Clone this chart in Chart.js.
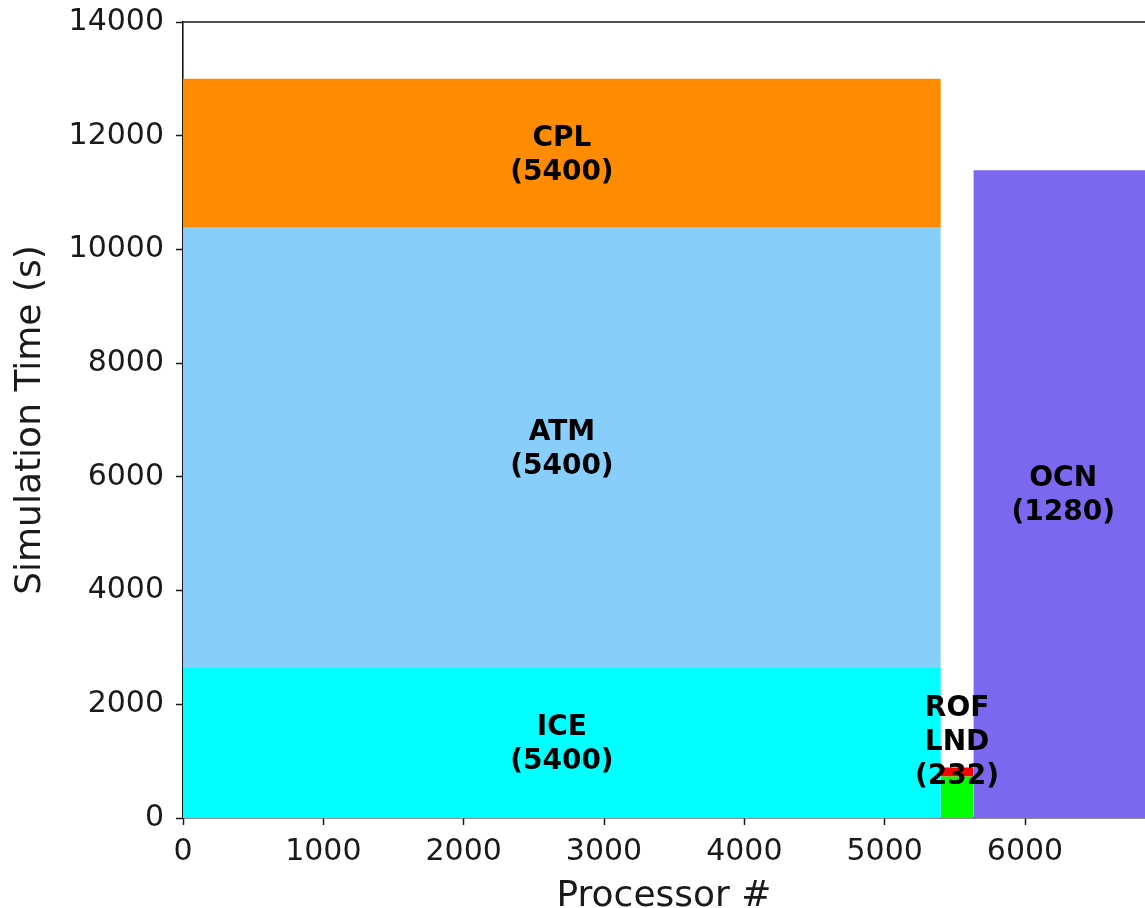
<!DOCTYPE html>
<html>
<head>
<meta charset="utf-8">
<script src="https://cdn.jsdelivr.net/npm/chart.js@4/dist/chart.umd.min.js"></script>
<style>
  html, body { margin: 0; padding: 0; background: #ffffff; overflow: hidden; }
  canvas { display: block; }
</style>
</head>
<body>
<canvas id="layout" width="1145" height="908"></canvas>
<script>
// Component layout: processor range (start, count) and time span per component
const components = ['ICE', 'ATM', 'CPL', 'LND', 'ROF', 'OCN'];
const procStart  = [0, 0, 0, 5400, 5400, 5632];
const procCount  = [5400, 5400, 5400, 232, 232, 1280];
const timeStart  = [0, 2636, 10380, 0, 730, 0];
const timeEnd    = [2636, 10380, 13000, 730, 890, 11394];
const colors     = ['#00FFFF', '#87CEFA', '#FF8C00', '#00FF00', '#FF0000', '#7B68EE'];

// Block annotations (LND and ROF share one label stacked above them)
const labelLines = [
  ['ICE', '(5400)'],
  ['ATM', '(5400)'],
  ['CPL', '(5400)'],
  ['ROF', 'LND', '(232)'],
  [],
  ['OCN', '(1280)']
];
const labelTime = [1318, 6508, 11690, 1358, null, 5697];

const xTicks = [0, 1000, 2000, 3000, 4000, 5000, 6000];
const yTicks = [0, 2000, 4000, 6000, 8000, 10000, 12000, 14000];
const xMax = 6855;
const yMax = 14000;

const INK = '#1a1a1a';
const FONT = "'DejaVu Sans', sans-serif";

const datasets = components.map((name, i) => ({
  label: name,
  data: [
    { x: procStart[i], y: timeEnd[i] },
    { x: procStart[i] + procCount[i], y: timeEnd[i] }
  ],
  fill: { value: timeStart[i] },
  backgroundColor: colors[i],
  borderColor: colors[i],
  borderWidth: 0,
  pointRadius: 0,
  tension: 0
}));

const blockLabels = {
  id: 'blockLabels',
  afterDatasetsDraw(chart) {
    const { ctx, scales: { x, y } } = chart;
    ctx.save();
    ctx.font = 'bold 28px ' + FONT;
    ctx.fillStyle = '#000000';
    ctx.textAlign = 'center';
    ctx.textBaseline = 'middle';
    const lh = 34;
    components.forEach((c, i) => {
      const lines = labelLines[i];
      if (!lines.length) return;
      const cx = x.getPixelForValue(procStart[i] + procCount[i] / 2);
      const cy = y.getPixelForValue(labelTime[i]) + 2;
      const y0 = cy - (lines.length - 1) * lh / 2;
      lines.forEach((t, k) => ctx.fillText(t, cx, y0 + k * lh));
    });
    ctx.restore();
  }
};

const topSpine = {
  id: 'topSpine',
  afterDraw(chart) {
    const { ctx, chartArea } = chart;
    ctx.save();
    ctx.strokeStyle = INK;
    ctx.lineWidth = 1.5;
    ctx.beginPath();
    ctx.moveTo(chartArea.left, chartArea.top);
    ctx.lineTo(chartArea.right + 2, chartArea.top);
    ctx.stroke();
    ctx.restore();
  }
};

const plainLabel = v => String(v);

new Chart(document.getElementById('layout'), {
  type: 'line',
  data: { datasets },
  plugins: [blockLabels, topSpine],
  options: {
    responsive: false,
    animation: false,
    devicePixelRatio: 1,
    layout: { padding: { top: 22, left: 0, right: 0, bottom: 0 } },
    plugins: { legend: { display: false }, tooltip: { enabled: false } },
    scales: {
      x: {
        type: 'linear',
        position: 'bottom',
        min: 0,
        max: xMax,
        afterBuildTicks: s => { s.ticks = xTicks.map(v => ({ value: v })); },
        afterFit: s => { s.height = 90; s.paddingLeft = 0; s.paddingRight = 0; },
        ticks: {
          font: { family: FONT, size: 30 },
          color: INK,
          padding: 9,
          maxRotation: 0,
          autoSkip: false,
          callback: plainLabel
        },
        grid: { drawOnChartArea: false, drawTicks: true, tickLength: 7, tickColor: INK, tickWidth: 1.5 },
        border: { display: true, color: INK, width: 1.6 },
        title: {
          display: true,
          text: 'Processor #',
          font: { family: FONT, size: 36 },
          color: INK,
          padding: { top: -10, bottom: -10 }
        }
      },
      y: {
        type: 'linear',
        min: 0,
        max: yMax,
        afterBuildTicks: s => { s.ticks = yTicks.map(v => ({ value: v })); },
        afterFit: s => { s.width = 183; s.paddingTop = 0; s.paddingBottom = 0; },
        ticks: {
          font: { family: FONT, size: 30 },
          color: INK,
          padding: 12,
          autoSkip: false,
          callback: plainLabel
        },
        grid: { drawOnChartArea: false, drawTicks: true, tickLength: 7, tickColor: INK, tickWidth: 1.5 },
        border: { display: true, color: INK, width: 1.6 },
        title: {
          display: true,
          text: 'Simulation Time (s)',
          font: { family: FONT, size: 36 },
          color: INK,
          padding: { top: 9, bottom: 9 }
        }
      }
    }
  }
});
</script>
</body>
</html>
